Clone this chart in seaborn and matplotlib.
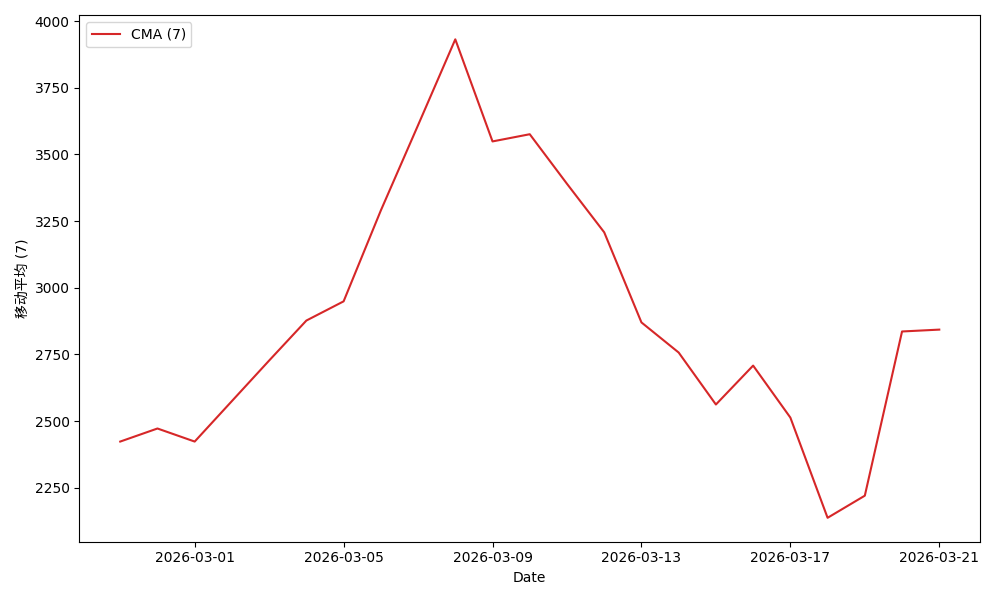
import pandas as pd
import matplotlib
matplotlib.use("Agg")
import matplotlib.pyplot as plt
import seaborn as sns

# Datos
fechas = pd.date_range("2026-02-27", "2026-03-21", freq="D")
cma_7 = [2423, 2472, 2423, 2575, 2727, 2877, 2949, 3290, 3610, 3932,
         3549, 3576, 3390, 3208, 2870, 2757, 2562, 2708, 2513, 2137,
         2220, 2836, 2843]

plt.rcParams['font.family'] = ['DejaVu Sans', 'Noto Sans CJK SC']

data_df = pd.DataFrame({"Date": fechas, "CMA": cma_7})

fig, ax = plt.subplots(figsize=(10, 6), dpi=100)
sns.lineplot(data=data_df, x="Date", y="CMA", color="tab:red", label="CMA (7)", ax=ax)
ax.set_xlabel("Date")
ax.set_ylabel("移动平均 (7)")
ax.legend(loc="upper left")
plt.tight_layout()
plt.savefig("out.png")
